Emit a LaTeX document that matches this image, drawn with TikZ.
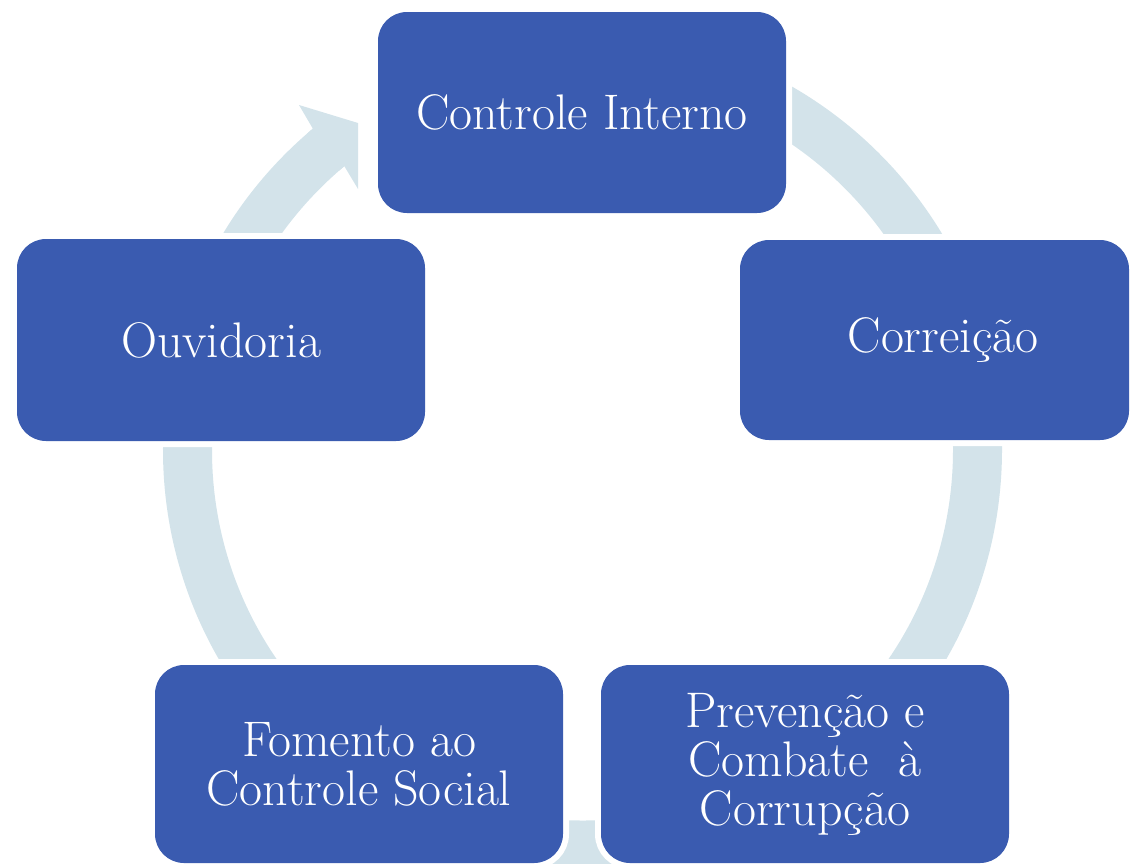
\documentclass[tikz,border=0pt]{standalone}
\definecolor{boxblue}{RGB}{58,91,176}
\definecolor{ringc}{RGB}{211,227,234}
\begin{document}
\begin{tikzpicture}[x=0.5pt,y=0.5pt,
  box/.style={fill=boxblue, rounded corners=14.5pt, inner sep=0pt, text=white,
    align=center, font=\fontsize{25}{24.5}\selectfont,
    preaction={draw=white, line width=6pt}},
  ring/.style={draw=ringc, line width=24.5pt}]
\useasboundingbox (0,0) rectangle (1130,-863);
\clip (0,0) rectangle (1130,-863);
\coordinate (c) at (582.5,-450);
% ring
\draw[ring] ([shift={(c)}]130:395) arc[start angle=130, end angle=455, radius=395];
% arrowhead
\fill[ringc] ([shift={(c)}]131:370.5) -- ([shift={(c)}]131:419.5) -- ([shift={(c)}]130:419.5)
  -- (299,-105) -- (358,-123) -- (358,-189) -- ([shift={(c)}]130:370.5) -- cycle;
% boxes
\node[box, minimum width=204pt, minimum height=100.5pt] (ci) at (582,-112.5) {Controle Interno};
\node[box, minimum width=194.5pt, minimum height=100pt] (co) at (934.5,-340) {\hspace*{8.5pt}Correição};
\node[box, minimum width=204pt, minimum height=101pt] (ou) at (221,-340) {Ouvidoria};
\node[box, minimum width=204pt, minimum height=99pt] (fo) at (359,-764) {Fomento ao\\Controle Social};
\node[box, minimum width=204pt, minimum height=99pt] (pr) at (805,-764) {Prevenção e\\Combate\ \ à\\Corrupção};
\end{tikzpicture}
\end{document}
